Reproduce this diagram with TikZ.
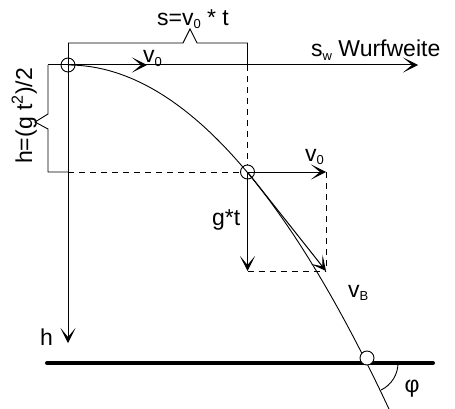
\documentclass[tikz,border=0pt]{standalone}
\usepackage{fontspec}
\setmainfont{Liberation Sans}
\usetikzlibrary{arrows.meta}
\newcommand{\sbs}[1]{\raisebox{-0.3ex}{\fontsize{13}{14}\selectfont #1}}
\begin{document}
\begin{tikzpicture}[x=1pt,y=-1pt,
  thinline/.style={line width=0.9pt},
  dashline/.style={line width=0.9pt, dash pattern=on 6pt off 5pt},
  vec/.style={line width=1pt,-{Stealth[length=15pt,width=15pt,inset=9pt]}},
  pt/.style={circle,draw,minimum size=14pt,inner sep=0pt,line width=0.9pt},
  lbl/.style={font=\fontsize{23}{25}\selectfont,inner sep=0pt},
]
\useasboundingbox (0,0) rectangle (455,409);
% key points
\node[pt] (O) at (68,65) {};
\node[pt] (M) at (247.5,172) {};
\coordinate (sbL) at (68,43);
\coordinate (sbR) at (247.5,43);
\coordinate (sR2) at (247.5,65);
\coordinate (hbT) at (48,65);
\coordinate (hbB) at (48,172);
\coordinate (hbE) at (68,172);
\coordinate (sEnd) at (418,65);
\coordinate (hEnd) at (68,343);
\coordinate (v0a) at (147,65);
\coordinate (v0e) at (326,172);
\coordinate (gte) at (247.5,271);
\coordinate (vbe) at (326,271);
\coordinate (gL) at (47,363);
\coordinate (gR) at (433,363);
\coordinate (P) at (368,363);
\coordinate (Pa) at (398,363);
% trajectory
\draw[thinline] plot[domain=68:390,samples=120] (\x,{65+(0.05779*(\x-68))^2});
% axes
\draw[vec] (hbT) -- (sEnd);
\draw[vec] (sbL) -- (hEnd);
\draw[vec] (O.center) -- (v0a);
% brackets
\draw[thinline] (sbL) -- (183,43) -- (190,29) -- (197,43) -- (sbR) -- (sR2);
\draw[dashline] (sR2) -- (M);
\draw[thinline] (hbT) -- (48,114) -- (35,122) -- (48,129) -- (hbB) -- (hbE);
\draw[dashline] (hbE) -- (M);
% velocity vectors
\draw[vec] (M.center) -- (v0e);
\draw[vec] (M.center) -- (gte);
\draw[vec] (M.center) -- (vbe);
\draw[dashline] (v0e) -- (vbe);
\draw[dashline] (gte) -- (vbe);
% ground
\draw[line width=4pt, line cap=round] (gL) -- (gR);
\node[pt,fill=white] (G) at (367,358) {};
\draw[thinline] (Pa) arc[start angle=0, end angle=64, radius=30];
% labels
\node[lbl] (ls) at (193,19) {s=v\sbs{0} * t};
\node[lbl,anchor=base west] (lv0) at (143,63) {v\sbs{0}};
\node[lbl,anchor=base west] (lsw) at (311,57) {s\sbs{w} Wurfweite};
\node[lbl,anchor=base,rotate=90] (lh) at (32,116) {h=(g t\textsuperscript{2})/2};
\node[lbl,anchor=base west] (lv0m) at (305,161) {v\sbs{0}};
\node[lbl,anchor=base west] (lgt) at (212,225) {g*t};
\node[lbl,anchor=base west] (lvb) at (348,297) {v\sbs{B}};
\node[lbl,anchor=base west] (lhh) at (40,345) {h};
\node[lbl] (lphi) at (412,389) {φ};
\end{tikzpicture}
\end{document}
